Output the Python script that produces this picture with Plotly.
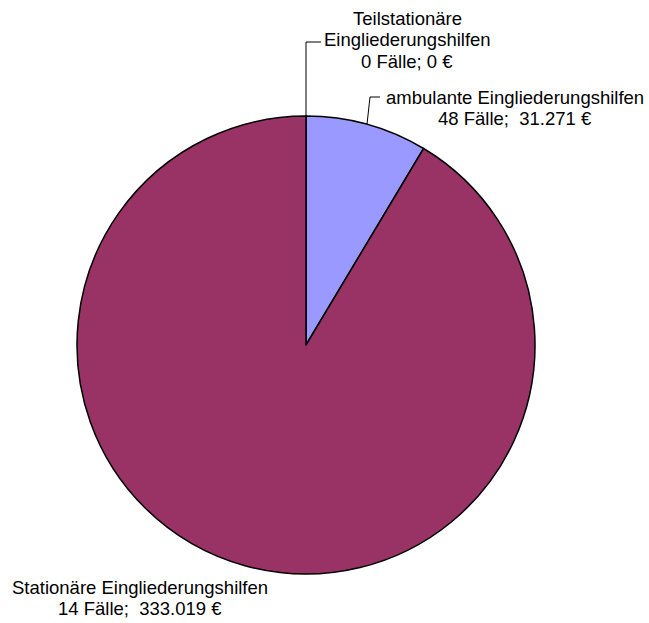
import math
import plotly.graph_objects as go

# Eingliederungshilfen: Fälle und Kosten je Hilfeart
categories = ["Teilstationäre Eingliederungshilfen",
              "ambulante Eingliederungshilfen",
              "Stationäre Eingliederungshilfen"]
label_lines = [["Teilstationäre", "Eingliederungshilfen"],
               ["ambulante Eingliederungshilfen"],
               ["Stationäre Eingliederungshilfen"]]
cases = [0, 48, 14]
amounts = [0, 31271, 333019]
colors = ["#FFFFFF", "#9999FF", "#993366"]

W, H = 649, 623
CX, CY, R = 306, 345, 229  # pie centre and radius in pixels


def px(x):
    return x / W


def py(y):
    return 1 - y / H


def euro(v):
    s = f"{v:,}".replace(",", ".")
    return s


def value_text(n, v):
    sep = " " if v == 0 else " \u00a0"
    return f"{n} Fälle;{sep}{euro(v)} €"


fig = go.Figure(go.Pie(
    labels=categories,
    values=amounts,
    sort=False,
    direction="clockwise",
    rotation=0,
    marker=dict(colors=colors, line=dict(color="#000000", width=1.5)),
    textinfo="none",
    hoverinfo="label+value",
    showlegend=False,
    domain=dict(x=[px(CX - R), px(CX + R)], y=[py(CY + R), py(CY - R)]),
))

# slice mid-angles (clockwise from 12 o'clock) for the leader lines
total = sum(amounts)
mids = []
acc = 0
for v in amounts:
    mids.append((acc + v / 2) / total * 2 * math.pi)
    acc += v


def edge(a):
    return CX + R * math.sin(a), CY - R * math.cos(a)


font = dict(family="Liberation Sans, Arial, sans-serif", size=18.5, color="#000000")
annotations = []
shapes = []
LS = 21  # line spacing in px


def add_lines(lines, cx, y0):
    for i, t in enumerate(lines):
        annotations.append(dict(
            x=px(cx), y=py(y0 + i * LS), xref="paper", yref="paper",
            text=t, showarrow=False, xanchor="center", yanchor="middle",
            font=font))


def seg(x0, y0, x1, y1):
    shapes.append(dict(type="line", xref="paper", yref="paper",
                       x0=px(x0), y0=py(y0), x1=px(x1), y1=py(y1),
                       line=dict(color="#000000", width=1)))


# Teilstationäre (top)
add_lines(label_lines[0] + [value_text(cases[0], amounts[0])], 407, 19)
ex, ey = edge(mids[0])
seg(ex, ey, ex, 42)
seg(ex, 42, 321, 42)

# ambulante (upper right)
add_lines(label_lines[1] + [value_text(cases[1], amounts[1])], 515, 97)
ex, ey = edge(mids[1])
seg(ex, ey, ex + 3, 97)
seg(ex + 3, 97, 380, 97)

# Stationäre (bottom left)
add_lines(label_lines[2] + [value_text(cases[2], amounts[2])], 140, 587)

fig.update_layout(
    width=W, height=H,
    margin=dict(l=0, r=0, t=0, b=0),
    paper_bgcolor="#FFFFFF",
    plot_bgcolor="#FFFFFF",
    annotations=annotations,
    shapes=shapes,
)

fig.write_html("out.html")
